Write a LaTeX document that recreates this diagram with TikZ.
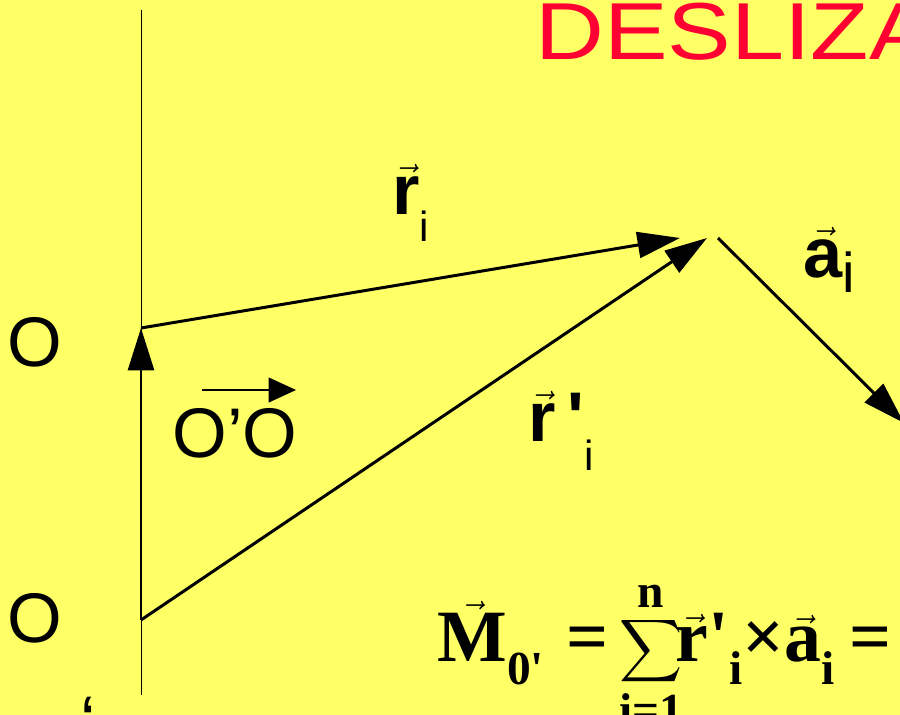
\documentclass[tikz,border=0pt]{standalone}
\usepackage{fontspec}
\usepackage{amsmath}
\usepackage{graphicx}
\usepackage{xcolor}
\usepackage{tikz}
\usetikzlibrary{arrows.meta,positioning}
\setmainfont{Liberation Sans}
\newfontfamily\serifbf{Liberation Serif}
\definecolor{slide}{HTML}{FFFF66}
\definecolor{titlered}{HTML}{FF0033}
\newcommand{\arrowover}[1]{\ensuremath{\vec{\hbox{#1}}}}
\newcommand{\vsub}[4]{\arrowover{\bfseries #1}{\bfseries #2}\raisebox{#3}{\normalfont\fontsize{#4}{26}\selectfont i}}
\newcommand{\smallbf}[1]{\hbox{\serifbf\bfseries\fontsize{27}{30}\selectfont #1}}
\newcommand{\momenteq}{%
  {\serifbf\bfseries\fontsize{42}{48}\selectfont
   \arrowover{M}\raisebox{-0.3em}{\smallbf{0\textquotesingle}}\hspace{0.3em}=\hspace{0.15em}%
   $\displaystyle\sum_{\smallbf{i=1}}^{\smallbf{n}}\!$%
   \arrowover{r}\textquotesingle\raisebox{-0.3em}{\smallbf{i}}×\arrowover{a}\raisebox{-0.3em}{\smallbf{i}}\hspace{0.2em}=}}

\begin{document}
\begin{tikzpicture}[x=0.02cm, y=-0.02cm,
  vecline/.style={line width=1.7pt, -{Triangle[length=8.5mm, width=5.2mm]}},
  smallvec/.style={line width=0.8pt, -{Triangle[length=5.5mm, width=5mm]}},
  axisline/.style={line width=0.5pt},
  lbl/.style={font=\fontsize{40}{44}\selectfont, inner sep=0pt},
  veclbl/.style={font=\fontsize{40}{44}\selectfont, inner sep=0pt, anchor=base west},
  titlestyle/.style={font=\fontsize{46}{50}\selectfont, text=titlered, inner sep=0pt, anchor=base west}
]
\fill[slide] (0,0) rectangle (900,715);
\useasboundingbox (0,0) rectangle (900,715);
\clip (0,0) rectangle (900,715);

% points of the construction
\coordinate (axtop) at (141,10);
\coordinate (axbot) at (141,695);
\coordinate (Obot) at (141,620);
\coordinate (Otop) at (141,328);
\coordinate (tipr) at (680,238);
\coordinate (tiprp) at (707,238);
\coordinate (astart) at (718,238);
\coordinate (aend) at (904,423);

\node[titlestyle] (title) at (535,60) {\scalebox{1.18}[1]{DESLIZA}};

\draw[axisline] (axtop) -- (axbot);
\draw[vecline] (Obot) -- (Otop);
\draw[vecline] (Otop) -- (tipr);
\draw[vecline] (Obot) -- (tiprp);
\draw[vecline] (astart) -- (aend);

\node[lbl] (Oup) at (35,342) {O};
\node[lbl] (Odown) at (35,618) {O};
\node[lbl, anchor=north] (quote) at (88,697) {‘};

\node[lbl] (OpO) at (235,433) {O’O};
\coordinate (oa1) at (202,390);
\coordinate (oa2) at (296,390);
\draw[smallvec] (oa1) -- (oa2);

\node[veclbl] (ri) at (392,215) {\vsub{r}{}{-0.38em}{24}};
\node[veclbl] (rpi) at (528,442) {\vsub{r}{\,\textquotesingle}{-0.4em}{24}};
\node[veclbl] (ai) at (803,278) {\vsub{a}{}{-0.2em}{32}};

\node[inner sep=0pt, anchor=base west] (moment) at (437,662) {\momenteq};
\end{tikzpicture}
\end{document}
